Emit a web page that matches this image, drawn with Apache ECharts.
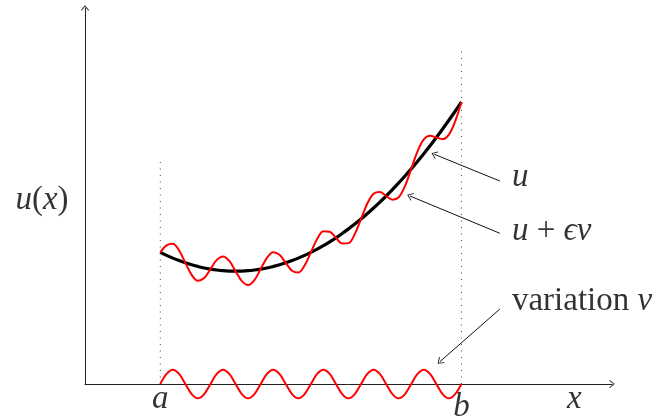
<!DOCTYPE html>
<html>
<head>
<meta charset="utf-8">
<script src="https://cdn.jsdelivr.net/npm/echarts@6/dist/echarts.min.js"></script>
<style>
  html, body { margin: 0; padding: 0; background: #fff; }
  #main { width: 657px; height: 418px; }
</style>
</head>
<body>
<div id="main"></div>
<script>
// sample positions along x (a = 1, b = 5), an eighth of a wave apart
var xs = [1.0000, 1.0833, 1.1667, 1.2500, 1.3333, 1.4167, 1.5000, 1.5833, 1.6667, 1.7500,
          1.8333, 1.9167, 2.0000, 2.0833, 2.1667, 2.2500, 2.3333, 2.4167, 2.5000, 2.5833,
          2.6667, 2.7500, 2.8333, 2.9167, 3.0000, 3.0833, 3.1667, 3.2500, 3.3333, 3.4167,
          3.5000, 3.5833, 3.6667, 3.7500, 3.8333, 3.9167, 4.0000, 4.0833, 4.1667, 4.2500,
          4.3333, 4.4167, 4.5000, 4.5833, 4.6667, 4.7500, 4.8333, 4.9167, 5.0000];
// u (black)
var uVals = [1.750, 1.710, 1.674, 1.641, 1.611, 1.585, 1.563, 1.543, 1.528, 1.516,
             1.507, 1.502, 1.500, 1.502, 1.507, 1.516, 1.528, 1.543, 1.563, 1.585,
             1.611, 1.641, 1.674, 1.710, 1.750, 1.793, 1.840, 1.891, 1.944, 2.002,
             2.063, 2.127, 2.194, 2.266, 2.340, 2.418, 2.500, 2.585, 2.674, 2.766,
             2.861, 2.960, 3.063, 3.168, 3.278, 3.391, 3.507, 3.627, 3.750];
// u + eps v (red, top)
var uPlusVals = [1.750, 1.844, 1.864, 1.775, 1.611, 1.451, 1.373, 1.409, 1.528, 1.650,
                 1.697, 1.636, 1.500, 1.368, 1.317, 1.382, 1.528, 1.677, 1.753, 1.719,
                 1.611, 1.507, 1.484, 1.576, 1.750, 1.927, 2.030, 2.025, 1.944, 1.868,
                 1.873, 1.993, 2.194, 2.400, 2.530, 2.552, 2.500, 2.451, 2.484, 2.632,
                 2.861, 3.094, 3.253, 3.302, 3.278, 3.257, 3.317, 3.493, 3.750];
// variation v (red, bottom)
var vVals = [0, 0.134, 0.19, 0.134, 0, -0.134, -0.19, -0.134,
             0, 0.134, 0.19, 0.134, 0, -0.134, -0.19, -0.134,
             0, 0.134, 0.19, 0.134, 0, -0.134, -0.19, -0.134,
             0, 0.134, 0.19, 0.134, 0, -0.134, -0.19, -0.134,
             0, 0.134, 0.19, 0.134, 0, -0.134, -0.19, -0.134,
             0, 0.134, 0.19, 0.134, 0, -0.134, -0.19, -0.134, 0];
// dotted bounds at a and b
var boundA = [[1, 0], [1, 2.98]];
var boundB = [[5, 0], [5, 4.49]];
// annotation arrows: [tail, tip]
var arrowU = [[5.511, 2.699], [4.639, 3.055]];
var arrowUV = [[5.511, 2.004], [4.316, 2.500]];
var arrowV = [[5.511, 0.997], [4.714, 0.297]];
// text labels
var labelTexts = ['{i|a}', '{i|b}', '{i|x}', '{i|u}{r|(}{i|x}{r|)}', '{i|u}', '{i|u}{r| + }{i|ϵv}', '{r|variation }{i|v}'];
var labelPos = [[1, -0.206], [5, -0.313], [6.5, -0.206], [-0.571, 2.44], [5.671, 2.746], [5.671, 2.035], [5.671, 1.104]];
var labelAlign = ['center', 'center', 'center', 'center', 'left', 'left', 'left'];

var dom = document.getElementById('main');
var myChart = echarts.init(dom, null, { renderer: 'canvas' });

var tipPath = 'path://M0,0 L5,6 L4.2,6.7 L0,1.5 L-4.2,6.7 L-5,6 Z';
var serif = '"Liberation Serif", "DejaVu Serif", serif';

function pairs(x, y) {
    var out = [];
    for (var i = 0; i < x.length; i++) out.push([x[i], y[i]]);
    return out;
}

function arrowLine(seg) {
    return [{ coord: seg[0], symbol: 'none' }, { coord: seg[1], symbol: tipPath, symbolSize: [8, 6] }];
}

var labelData = [];
for (var i = 0; i < labelTexts.length; i++) {
    labelData.push({
        value: labelPos[i],
        label: { formatter: labelTexts[i], align: labelAlign[i] }
    });
}

var option = {
    animation: false,
    grid: { left: 85, right: 45, top: 8, bottom: 34 },
    xAxis: {
        type: 'value', min: 0, max: 7,
        axisLine: { show: true, symbol: ['none', tipPath], symbolSize: [8, 6],
                    lineStyle: { color: '#222', width: 1 } },
        axisTick: { show: false }, axisLabel: { show: false }, splitLine: { show: false }
    },
    yAxis: {
        type: 'value', min: 0, max: 5,
        axisLine: { show: true, symbol: ['none', tipPath], symbolSize: [8, 6],
                    lineStyle: { color: '#222', width: 1 } },
        axisTick: { show: false }, axisLabel: { show: false }, splitLine: { show: false }
    },
    series: [
        {
            name: 'a', type: 'line', data: boundA, symbol: 'none', silent: true,
            lineStyle: { color: '#444', width: 1, type: [1, 5.5] }
        },
        {
            name: 'b', type: 'line', data: boundB, symbol: 'none', silent: true,
            lineStyle: { color: '#444', width: 1, type: [1, 5.5] }
        },
        {
            name: 'u', type: 'line', data: pairs(xs, uVals), symbol: 'none', smooth: 0.35,
            lineStyle: { color: '#000', width: 3.2 },
            markLine: {
                silent: true, animation: false, symbol: ['none', 'none'],
                label: { show: false },
                lineStyle: { color: '#111', width: 1, type: 'solid' },
                data: [arrowLine(arrowU), arrowLine(arrowUV), arrowLine(arrowV)]
            }
        },
        {
            name: 'u+ev', type: 'line', data: pairs(xs, uPlusVals), symbol: 'none', smooth: 0.35,
            lineStyle: { color: '#ff0000', width: 2 }
        },
        {
            name: 'v', type: 'line', data: pairs(xs, vVals), symbol: 'none', smooth: 0.35,
            clip: false,
            lineStyle: { color: '#ff0000', width: 2 }
        },
        {
            name: 'labels', type: 'scatter', data: labelData, clip: false, silent: true,
            symbolSize: 1, itemStyle: { color: 'rgba(0,0,0,0)' },
            label: {
                show: true, position: 'inside', verticalAlign: 'middle', color: '#000',
                rich: {
                    i: { fontFamily: serif, fontStyle: 'italic', fontSize: 33, color: '#000' },
                    r: { fontFamily: serif, fontStyle: 'normal', fontSize: 33, color: '#000' }
                }
            }
        }
    ]
};
myChart.setOption(option);
</script>
</body>
</html>
